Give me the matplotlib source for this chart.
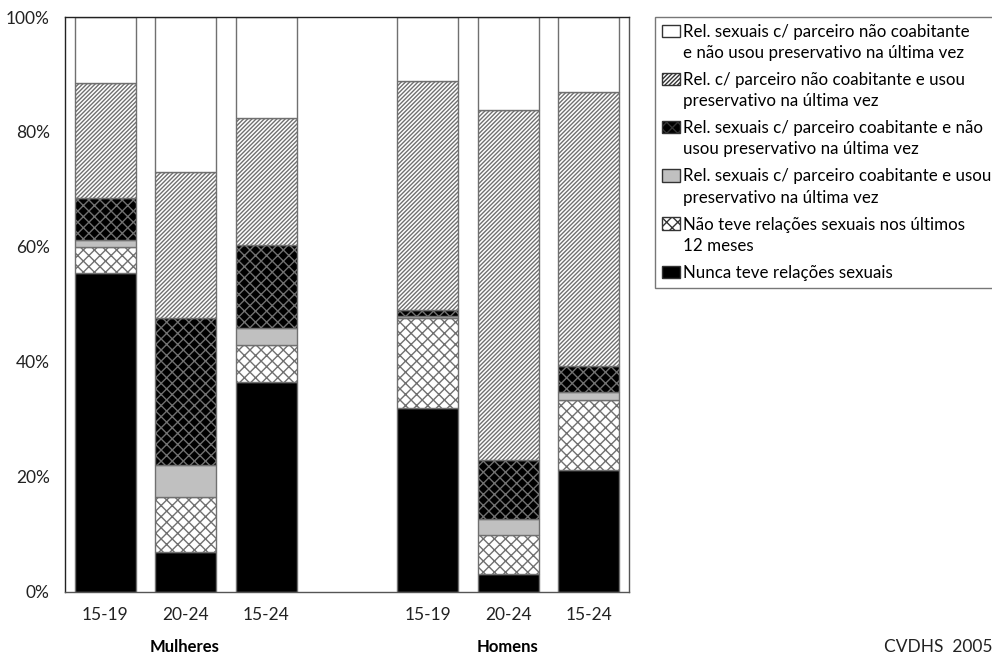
import matplotlib
matplotlib.use("Agg")
import matplotlib.pyplot as plt
from matplotlib.patches import Rectangle
from matplotlib.legend_handler import HandlerPatch
import numpy as np

plt.rcParams['font.family'] = ['Lato', 'DejaVu Sans']
plt.rcParams['hatch.linewidth'] = 1.0

categories = ["15-19", "20-24", "15-24", "15-19", "20-24", "15-24"]
groups = ["Mulheres", "Homens"]

nunca = [55.4, 6.9, 36.5, 31.9, 3.0, 21.2]
nao_teve = [4.6, 9.6, 6.5, 15.7, 6.9, 12.2]
coab_usou = [1.2, 5.5, 2.8, 0.3, 2.8, 1.4]
coab_nao_usou = [7.3, 25.7, 14.5, 1.2, 10.2, 4.5]
naocoab_usou = [20.0, 25.4, 22.1, 39.8, 60.9, 47.7]
naocoab_nao_usou = [11.5, 26.9, 17.6, 11.1, 16.2, 13.0]

labels = [
    "Nunca teve relações sexuais",
    "Não teve relações sexuais nos últimos\n12 meses",
    "Rel. sexuais c/ parceiro coabitante e usou\npreservativo na última vez",
    "Rel. sexuais c/ parceiro coabitante e não\nusou preservativo na última vez",
    "Rel. c/ parceiro não coabitante e usou\npreservativo na última vez",
    "Rel. sexuais c/ parceiro não coabitante\ne não usou preservativo na última vez",
]
series = [nunca, nao_teve, coab_usou, coab_nao_usou, naocoab_usou, naocoab_nao_usou]
styles = [
    dict(facecolor="black", hatch=None),
    dict(facecolor="white", hatch="xxx"),
    dict(facecolor="#c0c0c0", hatch=None),
    dict(facecolor="black", hatch="xxx"),
    dict(facecolor="white", hatch="////////"),
    dict(facecolor="white", hatch=None),
]

x = np.array([0, 1, 2, 4, 5, 6], dtype=float)

fig = plt.figure(figsize=(9.92, 6.57), dpi=100)
ax = fig.add_axes([65/992, 1-591.7/657, (629-65)/992, (591.7-17)/657])

EDGE = "#707070"
bottom = np.zeros(len(x))
proxies = []
for vals, lab, st in zip(series, labels, styles):
    vals = np.array(vals)
    ax.bar(x, vals, width=0.755, bottom=bottom, facecolor=st["facecolor"],
           hatch=st["hatch"], edgecolor=EDGE, linewidth=1.0, label=lab)
    proxies.append(Rectangle((0, 0), 1, 1, facecolor=st["facecolor"], hatch=st["hatch"],
                             edgecolor="#333333", linewidth=1.0))
    bottom += vals

ax.set_xlim(-0.5, 6.5)
ax.set_ylim(0, 100)
ax.set_yticks([0, 20, 40, 60, 80, 100])
ax.set_yticklabels(["0%", "20%", "40%", "60%", "80%", "100%"])
ax.set_xticks(x)
ax.set_xticklabels(categories)
ax.tick_params(axis="both", length=0, labelsize=12.5, colors="#222222")
ax.tick_params(axis="y", pad=11)
ax.tick_params(axis="x", pad=11)
for s in ["left", "top"]:
    ax.spines[s].set_color("#222222")
for s in ["right", "bottom"]:
    ax.spines[s].set_color("#555555")
for s in ax.spines.values():
    s.set_linewidth(1.0)

fig.text(185/992, 1-647/657, groups[0], ha="center", va="center", fontsize=12, fontweight="bold")
fig.text(508/992, 1-647/657, groups[1], ha="center", va="center", fontsize=12, fontweight="bold")
fig.text(992/992, 1-647/657, "CVDHS  2005", ha="right", va="center", fontsize=12.5, color="#222222")


def make_handler(shift):
    def pf(legend, orig_handle, xdescent, ydescent, width, height, fontsize):
        return Rectangle((-xdescent, -ydescent + shift * fontsize), width, height)
    return HandlerPatch(patch_func=pf)


hmap = {}
for p, lab in zip(proxies, labels):
    hmap[p] = make_handler(0.72 if "\n" in lab else 0.0)

leg = fig.legend(proxies[::-1], labels[::-1], loc="upper left",
                 bbox_to_anchor=(655/992, 1-17/657), frameon=True, fancybox=False,
                 fontsize=12.2, handlelength=1.1, handleheight=0.75, handletextpad=0.15,
                 labelspacing=0.65, borderpad=0.4, borderaxespad=0, handler_map=hmap)
for t in leg.get_texts():
    t.set_linespacing(1.4)
leg.get_frame().set_edgecolor("#555555")
leg.get_frame().set_linewidth(1.0)

fig.savefig("out.png", dpi=100)
